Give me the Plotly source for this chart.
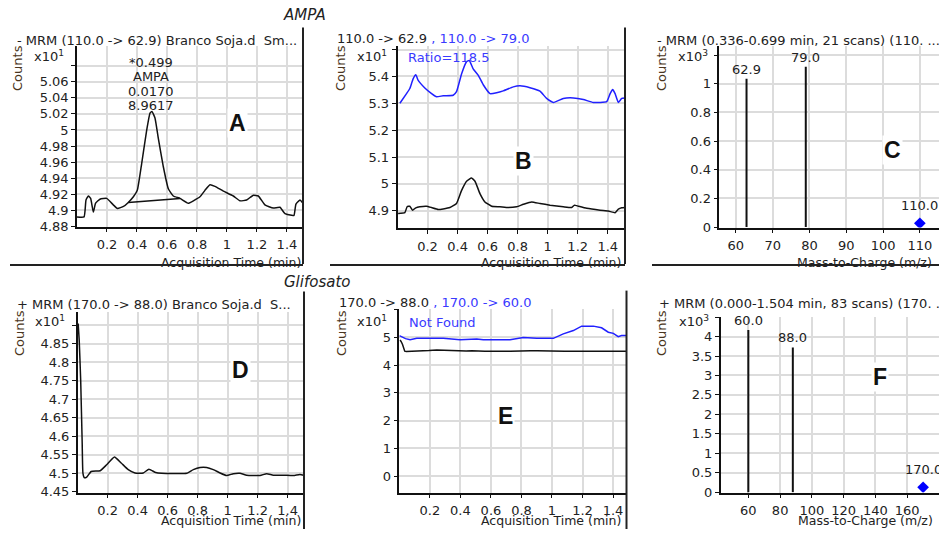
import plotly.graph_objects as go

W, H = 939, 537

# ---------------- data ----------------
# Panel A: MRM 110.0 -> 62.9 (x10^1 counts)
A_time = [0.0, 0.047, 0.06, 0.076, 0.091, 0.109, 0.124, 0.153, 0.198, 0.242, 0.27, 0.31, 0.342,
          0.376, 0.402, 0.431, 0.464, 0.487, 0.5, 0.52, 0.542, 0.576, 0.609, 0.642, 0.687, 0.742,
          0.776, 0.82, 0.853, 0.887, 0.92, 0.976, 1.042, 1.087, 1.131, 1.176, 1.209, 1.253, 1.309,
          1.353, 1.387, 1.431, 1.447, 1.46, 1.487, 1.507]
A_counts = [4.892, 4.892, 4.913, 4.918, 4.915, 4.898, 4.909, 4.914, 4.915, 4.907, 4.9025, 4.905, 4.910,
            4.917, 4.925, 4.958, 4.999, 5.021, 5.023, 5.015, 4.99, 4.954, 4.927, 4.918, 4.915, 4.909,
            4.912, 4.917, 4.925, 4.932, 4.93, 4.924, 4.918, 4.912, 4.913, 4.919, 4.918, 4.907, 4.903,
            4.904, 4.896, 4.894, 4.894, 4.908, 4.913, 4.909]
A_base_time = [0.342, 0.687]
A_base_counts = [4.910, 4.915]
A_peak_text = ["*0.499", "AMPA", "0.0170", "8.9617"]

# Panel B: qualifier overlay
B_time_t = [0.004, 0.049, 0.064, 0.082, 0.1, 0.122, 0.149, 0.193, 0.227, 0.271, 0.304, 0.349, 0.393,
            0.427, 0.46, 0.493, 0.516, 0.549, 0.582, 0.627, 0.682, 0.738, 0.793, 0.838, 0.893, 0.949,
            1.016, 1.104, 1.16, 1.178, 1.204, 1.26, 1.349, 1.404, 1.449, 1.471, 1.493, 1.515]
B_counts_t = [4.890, 4.893, 4.915, 4.917, 4.902, 4.911, 4.915, 4.917, 4.912, 4.905, 4.907, 4.912, 4.927,
              4.976, 5.01, 5.022, 5.01, 4.964, 4.933, 4.917, 4.915, 4.912, 4.915, 4.924, 4.933, 4.927,
              4.921, 4.915, 4.912, 4.921, 4.917, 4.909, 4.902, 4.899, 4.893, 4.906, 4.911, 4.912]
B_time_q = [0.016, 0.06, 0.082, 0.104, 0.122, 0.138, 0.182, 0.227, 0.26, 0.304, 0.371, 0.393, 0.427,
            0.46, 0.478, 0.504, 0.538, 0.571, 0.616, 0.66, 0.704, 0.771, 0.816, 0.882, 0.949, 0.993,
            1.038, 1.104, 1.171, 1.238, 1.304, 1.393, 1.416, 1.433, 1.449, 1.471, 1.493, 1.515]
B_counts_q = [5.30, 5.336, 5.355, 5.391, 5.406, 5.385, 5.357, 5.336, 5.324, 5.328, 5.330, 5.343, 5.41,
              5.455, 5.459, 5.428, 5.404, 5.369, 5.336, 5.339, 5.346, 5.361, 5.365, 5.358, 5.345, 5.318,
              5.303, 5.318, 5.32, 5.314, 5.303, 5.306, 5.336, 5.351, 5.336, 5.303, 5.318, 5.32]
B_ratio = "Ratio=118.5"

# Panel C: spectrum (x10^3 counts)
C_mz = [62.9, 79.0]
C_int = [1.034, 1.119]
C_prec_mz = [110.0]
C_prec_int = [0.027]

# Panel D: MRM 170.0 -> 88.0 (x10^1 counts)
D_time = [0.003, 0.01, 0.02, 0.03, 0.035, 0.045, 0.06, 0.09, 0.15, 0.193, 0.245, 0.29, 0.337, 0.382,
          0.437, 0.475, 0.52, 0.56, 0.727, 0.771, 0.816, 0.86, 0.904, 0.949, 0.993, 1.038, 1.082,
          1.127, 1.216, 1.26, 1.304, 1.371, 1.438, 1.482, 1.507]
D_counts = [4.905, 4.86, 4.75, 4.58, 4.50, 4.488, 4.49, 4.505, 4.507, 4.523, 4.544, 4.528, 4.51, 4.501,
            4.501, 4.511, 4.502, 4.50, 4.50, 4.51, 4.516, 4.516, 4.51, 4.501, 4.494, 4.499, 4.50,
            4.495, 4.494, 4.499, 4.495, 4.495, 4.494, 4.497, 4.495]

# Panel E: qualifier 170.0 -> 60.0 (blue)
E_time_q = [0.0, 0.02, 0.04, 0.07, 0.114, 0.288, 0.397, 0.507, 0.55, 0.725, 0.812, 0.9, 1.009, 1.074,
            1.14, 1.194, 1.271, 1.325, 1.369, 1.402, 1.434, 1.456, 1.485]
E_counts_q = [5.06, 5.0, 4.95, 4.91, 4.96, 4.96, 4.91, 4.94, 4.91, 4.91, 4.99, 4.96, 4.96, 5.12,
              5.24, 5.40, 5.40, 5.34, 5.18, 5.14, 5.02, 5.06, 5.06]

# Panel F: spectrum (x10^3 counts)
F_mz = [60.0, 88.0]
F_int = [4.17, 3.72]
F_prec_mz = [170.0]
F_prec_int = [0.126]

time_ticks = [0.2, 0.4, 0.6, 0.8, 1.0, 1.2, 1.4]
time_ticktext = ["0.2", "0.4", "0.6", "0.8", "1", "1.2", "1.4"]
A_yticks = [4.88, 4.90, 4.92, 4.94, 4.96, 4.98, 5.00, 5.02, 5.04, 5.06]
A_yticktext = ["4.88", "4.9", "4.92", "4.94", "4.96", "4.98", "5", "5.02", "5.04", "5.06"]
A_ytop = [5.08]
B_yticks = [4.9, 5.0, 5.1, 5.2, 5.3, 5.4]
B_yticktext = ["4.9", "5", "5.1", "5.2", "5.3", "5.4"]
B_ytop = [5.5]
C_xticks = [60, 70, 80, 90, 100, 110]
C_yticks = [0, 0.2, 0.4, 0.6, 0.8, 1.0]
C_yticktext = ["0", "0.2", "0.4", "0.6", "0.8", "1"]
C_ytop = [1.2]
D_yticks = [4.45, 4.5, 4.55, 4.6, 4.65, 4.7, 4.75, 4.8, 4.85]
D_yticktext = ["4.45", "4.5", "4.55", "4.6", "4.65", "4.7", "4.75", "4.8", "4.85"]
D_ytop = [4.9]
E_yticks = [0, 1, 2, 3, 4, 5]
E_yticktext = ["0", "1", "2", "3", "4", "5"]
E_ytop = [6]
F_xticks = [60, 80, 100, 120, 140, 160]
F_yticks = [0, 0.5, 1, 1.5, 2, 2.5, 3, 3.5, 4]
F_yticktext = ["0", "0.5", "1", "1.5", "2", "2.5", "3", "3.5", "4"]
F_ytop = [4.5]

# ---------------- styling ----------------
FONT = "DejaVu Sans"
FS = 13
TXT = "#222222"
BLUE_LINE = "#2020ff"
BLUE_TXT = "#3a3aff"
GRID = "#dcdcdc"


def xd(a, b):
    return [a / W, b / W]


def yd(top, bottom):
    return [1 - bottom / H, 1 - top / H]


def px(x):
    return x / W


def py(y):
    return 1 - y / H


fig = go.Figure()

line_black = dict(color="#111111", width=1.5)
line_blue = dict(color=BLUE_LINE, width=1.5)

# A
fig.add_trace(go.Scatter(x=A_time, y=A_counts, mode="lines", line=line_black, line_shape="spline",
                         line_smoothing=0.4, xaxis="x", yaxis="y"))
fig.add_trace(go.Scatter(x=A_base_time, y=A_base_counts, mode="lines", line=line_black, xaxis="x", yaxis="y"))
# B
fig.add_trace(go.Scatter(x=B_time_q, y=B_counts_q, mode="lines", line=line_blue, line_shape="spline",
                         line_smoothing=0.4, xaxis="x2", yaxis="y2"))
fig.add_trace(go.Scatter(x=B_time_t, y=B_counts_t, mode="lines", line=line_black, line_shape="spline",
                         line_smoothing=0.4, xaxis="x2", yaxis="y2"))


def sticks(mz, inten):
    xs, ys = [], []
    for m, h in zip(mz, inten):
        xs += [m, m, None]
        ys += [0, h, None]
    return xs, ys


# C
sx, sy = sticks(C_mz, C_int)
fig.add_trace(go.Scatter(x=sx, y=sy, mode="lines", line=dict(color="#111111", width=2), xaxis="x3", yaxis="y3"))
fig.add_trace(go.Scatter(x=C_prec_mz, y=C_prec_int, mode="markers",
                         marker=dict(symbol="diamond", color="#0000ff", size=9), xaxis="x3", yaxis="y3"))
# D
fig.add_trace(go.Scatter(x=D_time, y=D_counts, mode="lines", line=line_black, line_shape="spline",
                         line_smoothing=0.4, xaxis="x4", yaxis="y4"))
# E
fig.add_trace(go.Scatter(x=E_time_q, y=E_counts_q, mode="lines", line=line_blue, xaxis="x5", yaxis="y5"))
fig.add_trace(go.Scatter(x=D_time, y=D_counts, mode="lines", line=line_black, xaxis="x5", yaxis="y5"))
# F
sx, sy = sticks(F_mz, F_int)
fig.add_trace(go.Scatter(x=sx, y=sy, mode="lines", line=dict(color="#111111", width=2), xaxis="x6", yaxis="y6"))
fig.add_trace(go.Scatter(x=F_prec_mz, y=F_prec_int, mode="markers",
                         marker=dict(symbol="diamond", color="#0000ff", size=9), xaxis="x6", yaxis="y6"))


def xax(domain, rng, tickvals, ticktext=None, anchor="y"):
    d = dict(domain=domain, range=rng, tickmode="array", tickvals=tickvals,
             showline=True, linecolor="#111111", linewidth=1.5, ticks="outside", ticklen=4,
             tickcolor="#111111", tickwidth=1.2, showgrid=True, gridcolor=GRID, gridwidth=1.5,
             zeroline=False, anchor=anchor, ticklabelstandoff=1,
             tickfont=dict(family=FONT, size=FS, color=TXT))
    if ticktext is not None:
        d["ticktext"] = ticktext
    return d


def yax(domain, rng, tickvals, ticktext, top, anchor="x"):
    return dict(domain=domain, range=rng, tickmode="array", tickvals=tickvals, ticktext=ticktext,
                showline=True, linecolor="#111111", linewidth=1.5, ticks="outside", ticklen=4,
                tickcolor="#111111", tickwidth=1.2, showgrid=True, gridcolor=GRID, gridwidth=1.5,
                minor=dict(tickmode="array", tickvals=top, ticks="outside", ticklen=4,
                           tickcolor="#111111", tickwidth=1.2, showgrid=True, gridcolor=GRID,
                           gridwidth=1.5),
                zeroline=False, anchor=anchor, tickfont=dict(family=FONT, size=FS, color=TXT))


fig.update_layout(
    width=W, height=H, margin=dict(l=0, r=0, t=0, b=0),
    paper_bgcolor="white", plot_bgcolor="white", showlegend=False,
    font=dict(family=FONT, size=FS, color=TXT),
    xaxis=xax(xd(77, 303), [0, 1.507], time_ticks, time_ticktext, "y"),
    yaxis=yax(yd(47, 230), [4.88, 5.104], A_yticks, A_yticktext, A_ytop, "x"),
    xaxis2=xax(xd(397.5, 625), [0, 1.515], time_ticks, time_ticktext, "y2"),
    yaxis2=yax(yd(47, 231.7), [4.835, 5.512], B_yticks, B_yticktext, B_ytop, "x2"),
    xaxis3=xax(xd(719.3, 939), [55.5, 115.2], C_xticks, None, "y3"),
    yaxis3=yax(yd(46.7, 231), [-0.003, 1.263], C_yticks, C_yticktext, C_ytop, "x3"),
    xaxis4=xax(xd(77.7, 304), [0, 1.509], time_ticks, time_ticktext, "y4"),
    yaxis4=yax(yd(316.7, 500), [4.448, 4.936], D_yticks, D_yticktext, D_ytop, "x4"),
    xaxis5=xax(xd(399.4, 626), [0, 1.485], time_ticks, time_ticktext, "y5"),
    yaxis5=yax(yd(313.3, 500), [-0.59, 6.03], E_yticks, E_yticktext, E_ytop, "x5"),
    xaxis6=xax(xd(720.7, 939), [42.6, 180], F_xticks, None, "y6"),
    yaxis6=yax(yd(321.7, 500), [-0.01, 4.505], F_yticks, F_yticktext, F_ytop, "x6"),
)

anns = []


def ann(text, x, y, size=FS, color=TXT, xanchor="left", yanchor="middle", **kw):
    d = dict(text=text, x=px(x), y=py(y), xref="paper", yref="paper", showarrow=False,
             xanchor=xanchor, yanchor=yanchor, font=dict(family=FONT, size=size, color=color))
    d.update(kw)
    anns.append(d)


# section titles
ann("<i>AMPA</i>", 304, 15, size=15, xanchor="center")
ann("<i>Glifosato</i>", 317, 286, size=15, xanchor="center")

# panel titles
ann("- MRM (110.0 -> 62.9) Branco Soja.d&nbsp; Sm...", 15, 41)
ann("110.0 -> 62.9 <span style='color:%s'>, 110.0 -> 79.0</span>" % BLUE_TXT, 335, 39)
ann("- MRM (0.336-0.699 min, 21 scans) (110. ...", 655, 41)
ann("+ MRM (170.0 -> 88.0) Branco Soja.d&nbsp; S...", 15, 309)
ann("170.0 -> 88.0 <span style='color:%s'>, 170.0 -> 60.0</span>" % BLUE_TXT, 337, 307)
ann("+ MRM (0.000-1.504 min, 83 scans) (170. ...", 657, 308)

# Counts + multipliers
for (cx, cy) in [(18, 69), (341, 69), (662, 69), (20, 338), (342, 338), (662, 338)]:
    ann("Counts", cx, cy, size=FS, color="#4a3520", xanchor="center", textangle=-90)
for (mx, my, e) in [(32, 57, 1), (355, 57, 1), (676, 57, 3), (33, 326, 1), (355, 326, 1), (677, 326, 3)]:
    ann("x10<sup>%d</sup>" % e, mx, my, size=FS)

# x axis titles
XT = 12.5
for xx in [302, 622]:
    ann("Acquisition Time (min)", xx, 266, size=XT, xanchor="right", borderpad=0)
    ann("Acquisition Time (min)", xx, 537, size=XT, xanchor="right", yanchor="bottom", borderpad=0)
ann("Mass-to-Charge (m/z)", 796, 266, size=XT, borderpad=0)
ann("Mass-to-Charge (m/z)", 797, 537, size=XT, yanchor="bottom", borderpad=0)

# panel letters
for (lt, lx, ly) in [("A", 237, 125), ("B", 523, 163), ("C", 892, 152),
                     ("D", 240, 376), ("E", 505, 422), ("F", 880, 383)]:
    anns.append(dict(text="<b>%s</b>" % lt, x=px(lx), y=py(ly), xref="paper", yref="paper",
                     showarrow=False, xanchor="center", yanchor="middle", bgcolor="white",
                     font=dict(family="Liberation Sans", size=23, color="#111111")))

# peak annotation (A)
for i, t in enumerate(A_peak_text):
    ann(t, 151, 63 + i * 14.7, xanchor="center")

ann(B_ratio, 406, 58, color=BLUE_TXT)
ann("Not Found", 407, 327, color=BLUE_TXT)

# stick labels
for m, h in zip(C_mz, C_int):
    anns.append(dict(text="%.1f" % m, x=m, y=h, xref="x3", yref="y3", showarrow=False,
                     xanchor="center", yanchor="bottom", font=dict(family=FONT, size=FS, color=TXT)))
for m, h in zip(C_prec_mz, C_prec_int):
    anns.append(dict(text="%.1f" % m, x=m, y=h, xref="x3", yref="y3", showarrow=False, yshift=8,
                     xanchor="center", yanchor="bottom", font=dict(family=FONT, size=FS, color=TXT)))
for m, h in zip(F_mz, F_int):
    anns.append(dict(text="%.1f" % m, x=m, y=h, xref="x6", yref="y6", showarrow=False,
                     xanchor="center", yanchor="bottom", font=dict(family=FONT, size=FS, color=TXT)))
for m, h in zip(F_prec_mz, F_prec_int):
    anns.append(dict(text="%.1f" % m, x=m, y=h, xref="x6", yref="y6", showarrow=False, yshift=8,
                     xanchor="center", yanchor="bottom", font=dict(family=FONT, size=FS, color=TXT)))

fig.update_layout(annotations=anns)

# panel borders
shapes = []
for (x0, y0, x1, y1) in [(303, 28, 303, 268), (625, 28, 625, 268), (304, 296, 304, 537), (626.5, 295, 626.5, 537),
                         (10, 269, 303, 269), (330, 269, 625, 269), (652, 269, 939, 269)]:
    shapes.append(dict(type="line", xref="paper", yref="paper", x0=px(x0), x1=px(x1), y0=py(y0), y1=py(y1),
                       line=dict(color="#222222", width=2)))
fig.update_layout(shapes=shapes)

fig.write_html("out.html", config={"displayModeBar": False},
               post_script="document.body.style.margin='0px';")
